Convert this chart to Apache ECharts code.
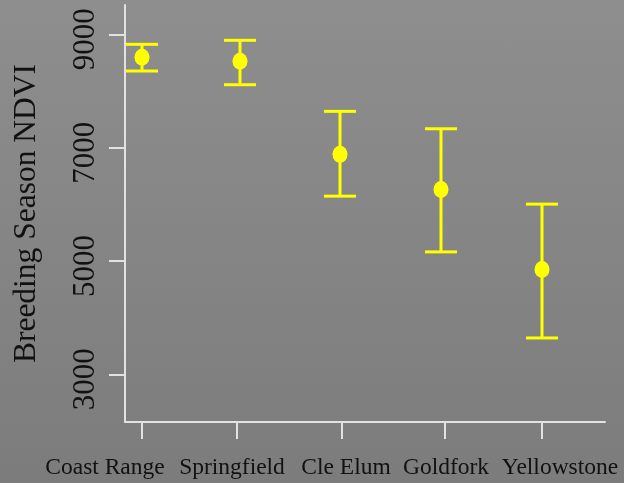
<!DOCTYPE html>
<html>
<head>
<meta charset="utf-8">
<script src="https://cdn.jsdelivr.net/npm/echarts@6/dist/echarts.min.js"></script>
<style>
  html, body { margin: 0; padding: 0; }
  body { width: 624px; height: 483px; background: linear-gradient(to bottom, #8e8e8e, #7c7c7c); }
  #chart { width: 624px; height: 483px; }
</style>
</head>
<body>
<div id="chart"></div>
<script>
// Site names, plotting positions and NDVI summaries (mean with upper/lower bounds)
const sites = ['Coast Range', 'Springfield', 'Cle Elum', 'Goldfork', 'Yellowstone'];
const sitePos = [1, 1.98, 2.98, 3.99, 5];
const meanNDVI = [8594, 8523, 6881, 6262, 4849];
const upperNDVI = [8823, 8894, 7640, 7333, 6003];
const lowerNDVI = [8352, 8110, 6144, 5160, 3641];
const xTickPos = [1, 1.95, 3, 4.03, 5];
const yTickValues = [3000, 5000, 7000, 9000];

// Horizontal nudge for each site label (pixels, negative = left)
const labelShift = [-37, -5, 4, 1, 18];

const serif = 'Liberation Serif, Times New Roman, serif';
const axisColor = '#e2e2e2';
const yellow = '#ffff00';

const rich = {};
labelShift.forEach((s, i) => {
  rich['s' + i] = {
    fontFamily: serif, fontSize: 23.5, color: '#111',
    padding: s < 0 ? [0, -2 * s, 0, 0] : [0, 0, 0, 2 * s]
  };
});

const chart = echarts.init(document.getElementById('chart'), null, { renderer: 'canvas' });

chart.setOption({
  backgroundColor: 'transparent',
  animation: false,
  grid: { left: 125, right: 19, top: 5, bottom: 61, containLabel: false, outerBoundsMode: 'none' },
  xAxis: {
    type: 'value',
    min: 0.83,
    max: 5.63,
    splitLine: { show: false },
    axisLine: { show: true, onZero: false, lineStyle: { color: axisColor, width: 2 } },
    axisTick: { show: true, customValues: xTickPos, length: 17, lineStyle: { color: axisColor, width: 2 } },
    axisLabel: {
      customValues: xTickPos,
      margin: 34,
      formatter: (v) => {
        const i = xTickPos.findIndex(p => Math.abs(p - v) < 1e-6);
        return i < 0 ? '' : '{s' + i + '|' + sites[i] + '}';
      },
      rich: rich
    }
  },
  yAxis: {
    type: 'value',
    min: 2158,
    max: 9517,
    name: 'Breeding Season NDVI',
    nameLocation: 'middle',
    nameGap: 82,
    nameRotate: 90,
    nameTextStyle: { fontFamily: serif, fontSize: 31.5, color: '#111' },
    splitLine: { show: false },
    axisLine: { show: true, onZero: false, lineStyle: { color: axisColor, width: 2 } },
    axisTick: { show: true, customValues: yTickValues, length: 16, lineStyle: { color: axisColor, width: 2 } },
    axisLabel: {
      customValues: yTickValues,
      rotate: 90,
      margin: 24,
      fontFamily: serif,
      fontSize: 31,
      color: '#111',
      padding: [0, 10, 0, 0],
      formatter: (v) => String(v)
    }
  },
  series: [
    {
      type: 'custom',
      name: 'range',
      data: sitePos.map((x, i) => [x, lowerNDVI[i], upperNDVI[i]]),
      renderItem: (params, api) => {
        const x = api.value(0);
        const lo = api.coord([x, api.value(1)]);
        const hi = api.coord([x, api.value(2)]);
        const half = 16;
        const style = { stroke: yellow, lineWidth: 3, fill: null };
        return {
          type: 'group',
          children: [
            { type: 'line', shape: { x1: lo[0], y1: lo[1], x2: hi[0], y2: hi[1] }, style },
            { type: 'line', shape: { x1: hi[0] - half, y1: hi[1], x2: hi[0] + half, y2: hi[1] }, style },
            { type: 'line', shape: { x1: lo[0] - half, y1: lo[1], x2: lo[0] + half, y2: lo[1] }, style }
          ]
        };
      },
      z: 2
    },
    {
      type: 'scatter',
      name: 'mean',
      data: sitePos.map((x, i) => [x, meanNDVI[i]]),
      symbol: 'circle',
      symbolSize: [15, 17],
      itemStyle: { color: yellow, opacity: 1 },
      z: 3
    }
  ]
});
</script>
</body>
</html>
